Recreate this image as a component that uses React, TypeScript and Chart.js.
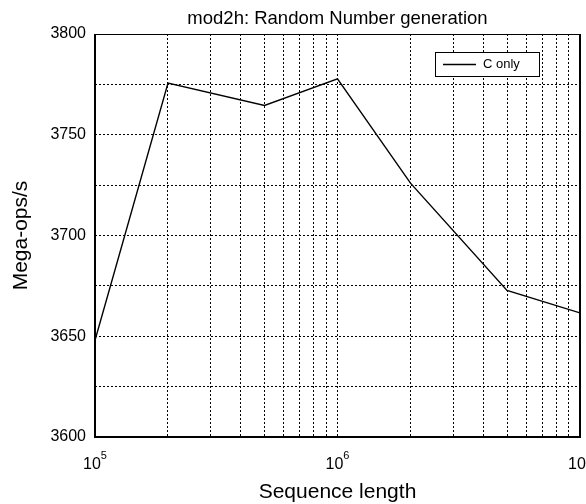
import React, { useEffect, useRef } from "react";
import { Chart, registerables } from "chart.js";

Chart.register(...registerables);

const chartTitle = "mod2h: Random Number generation";
const xTitle = "Sequence length";
const yTitle = "Mega-ops/s";
const seriesLabel = "C only";

const sequenceLengths = [1e5, 2e5, 5e5, 1e6, 2e6, 5e6, 1e7];
const megaOps = [3648, 3775.7, 3764.5, 3777.7, 3726, 3672.7, 3661.6];

const xTickValues = [
  1e5, 2e5, 3e5, 4e5, 5e5, 6e5, 7e5, 8e5, 9e5,
  1e6, 2e6, 3e6, 4e6, 5e6, 6e6, 7e6, 8e6, 9e6, 1e7,
];
const xLabelValues = [1e5, 1e6, 1e7];
const yLabelValues = [3600, 3650, 3700, 3750, 3800];

const FONT = "'Liberation Sans', Arial, sans-serif";

const decorPlugin = {
  id: "decor",
  afterDraw(chart: any) {
    const { ctx, chartArea } = chart;
    const xs = chart.scales.x;
    const ys = chart.scales.y;
    const { left, right, top, bottom } = chartArea;
    ctx.save();
    // frame
    ctx.strokeStyle = "#000";
    ctx.lineWidth = 1;
    ctx.beginPath();
    ctx.moveTo(left, top + 0.5);
    ctx.lineTo(right, top + 0.5);
    ctx.stroke();
    ctx.lineWidth = 2;
    ctx.beginPath();
    ctx.moveTo(left, top);
    ctx.lineTo(left, bottom);
    ctx.lineTo(right, bottom);
    ctx.lineTo(right, top);
    ctx.stroke();

    // legend
    const lx = 435, ly = 52, lw = 104, lh = 24;
    ctx.fillStyle = "#fff";
    ctx.fillRect(lx, ly, lw, lh);
    ctx.lineWidth = 1;
    ctx.strokeStyle = "#000";
    ctx.strokeRect(lx + 0.5, ly + 0.5, lw, lh);
    ctx.lineWidth = 1.4;
    ctx.beginPath();
    ctx.moveTo(lx + 8, ly + 12.5);
    ctx.lineTo(lx + 41, ly + 12.5);
    ctx.stroke();
    ctx.fillStyle = "#000";
    ctx.font = `13px ${FONT}`;
    ctx.textAlign = "left";
    ctx.textBaseline = "middle";
    ctx.fillText(chart.data.datasets[0].label, lx + 48, ly + 12.5);

    // title
    ctx.font = `18.5px ${FONT}`;
    ctx.textAlign = "center";
    ctx.textBaseline = "alphabetic";
    ctx.fillText(chartTitle, (left + right) / 2, 24);

    // y tick labels
    ctx.font = `16px ${FONT}`;
    ctx.textAlign = "right";
    ctx.textBaseline = "middle";
    yLabelValues.forEach((v) => {
      ctx.fillText(String(v), left - 9, ys.getPixelForValue(v));
    });

    // x tick labels 10^n
    xLabelValues.forEach((v) => {
      const px = xs.getPixelForValue(v);
      const exp = String(Math.round(Math.log10(v)));
      ctx.font = `16px ${FONT}`;
      const wBase = ctx.measureText("10").width;
      ctx.font = `11px ${FONT}`;
      const wExp = ctx.measureText(exp).width;
      const start = px - (wBase + wExp) / 2;
      ctx.textAlign = "left";
      ctx.textBaseline = "alphabetic";
      ctx.font = `16px ${FONT}`;
      ctx.fillText("10", start, 469);
      ctx.font = `11px ${FONT}`;
      ctx.fillText(exp, start + wBase, 459);
    });

    // x title
    ctx.font = `21px ${FONT}`;
    ctx.textAlign = "center";
    ctx.textBaseline = "alphabetic";
    ctx.fillText(xTitle, (left + right) / 2, 498);

    // y title
    ctx.translate(27, (top + bottom) / 2);
    ctx.rotate(-Math.PI / 2);
    ctx.fillText(yTitle, 0, 0);
    ctx.restore();
  },
};

export default function App() {
  const ref = useRef<HTMLCanvasElement>(null);
  useEffect(() => {
    if (!ref.current) return;
    const chart = new Chart(ref.current, {
      type: "line",
      data: {
        datasets: [
          {
            label: seriesLabel,
            data: sequenceLengths.map((x, i) => ({ x, y: megaOps[i] })),
            borderColor: "#000",
            borderWidth: 1.4,
            pointRadius: 0,
            fill: false,
            tension: 0,
          },
        ],
      },
      options: {
        animation: false,
        responsive: false,
        devicePixelRatio: 1,
        layout: { padding: { left: 95, right: 6, top: 34, bottom: 67 } },
        plugins: {
          legend: { display: false },
          title: { display: false },
          tooltip: { enabled: false },
        },
        scales: {
          x: {
            type: "logarithmic",
            min: 1e5,
            max: 1e7,
            afterBuildTicks: (axis: any) => {
              axis.ticks = xTickValues.map((value) => ({ value }));
            },
            afterFit: (axis: any) => {
              axis.height = 0;
            },
            ticks: { display: false },
            border: { display: false, dash: [2, 2] },
            grid: {
              color: "#000",
              lineWidth: 1,
              drawTicks: false,
            },
          },
          y: {
            type: "linear",
            min: 3600,
            max: 3800,
            afterFit: (axis: any) => {
              axis.width = 0;
            },
            ticks: { display: false, stepSize: 25 },
            border: { display: false, dash: [2, 2] },
            grid: {
              color: "#000",
              lineWidth: 1,
              drawTicks: false,
            },
          },
        },
      },
      plugins: [decorPlugin],
    } as any);
    return () => chart.destroy();
  }, []);
  return (
    <div style={{ position: "absolute", left: 0, top: 0, width: 586, height: 504 }}>
      <canvas ref={ref} width={586} height={504} />
    </div>
  );
}
